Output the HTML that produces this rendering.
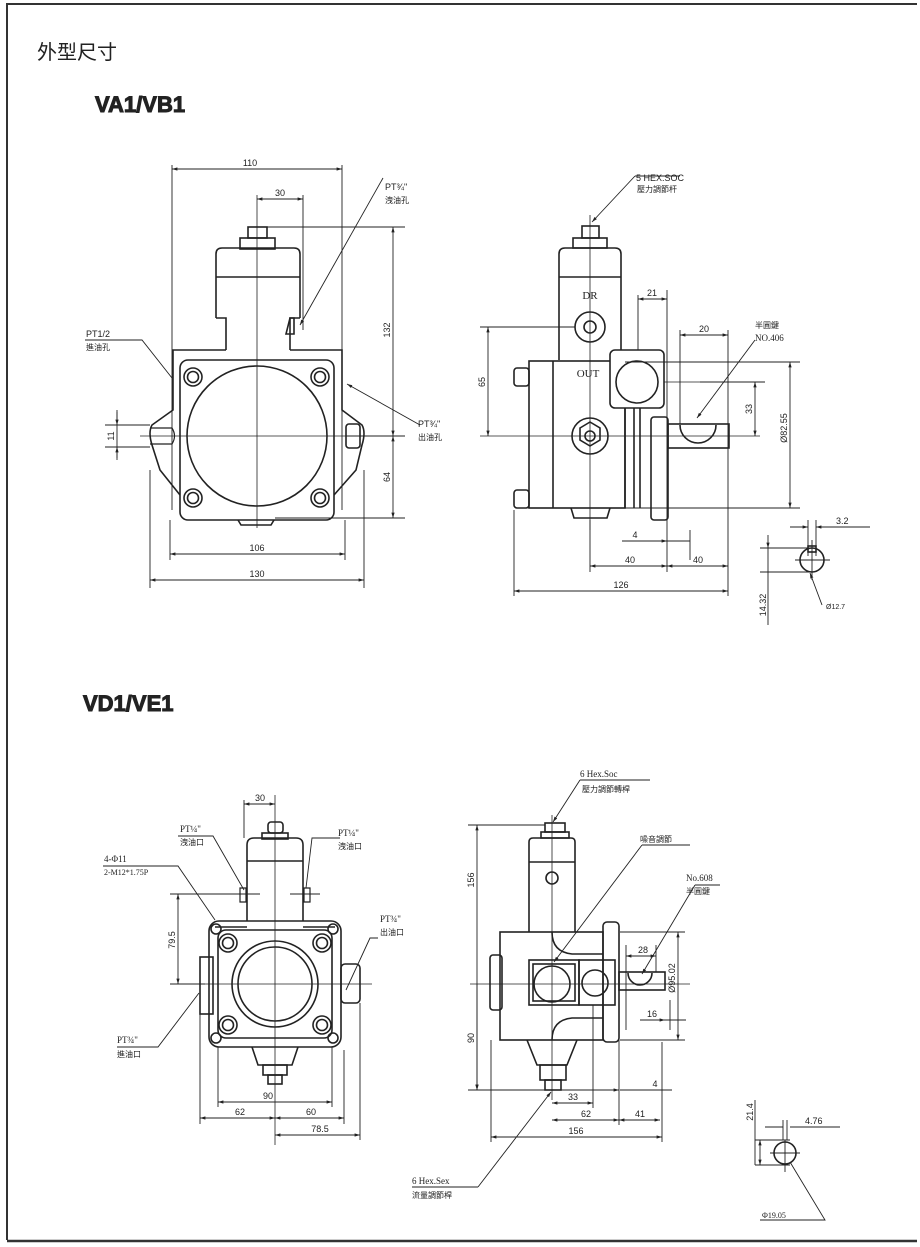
<!DOCTYPE html>
<html><head><meta charset="utf-8"><style>
html,body{margin:0;padding:0;background:#fff}
svg{display:block}
text{font-family:"Liberation Sans","Noto Sans CJK TC",sans-serif;fill:#222}
.s{font-family:"Liberation Serif","Noto Serif CJK SC",serif}
</style></head><body>
<svg width="920" height="1247" viewBox="0 0 920 1247" xmlns="http://www.w3.org/2000/svg">
<defs>
<marker id="a" viewBox="0 0 10 10" refX="10" refY="5" markerWidth="6" markerHeight="6" orient="auto-start-reverse"><path d="M0,2 L10,5 L0,8z" fill="#222"/></marker>
</defs>
<rect x="0" y="0" width="920" height="1247" fill="#fff"/>
<path d="M7,1240 V4 H917" fill="none" stroke="#333" stroke-width="2"/>
<line x1="7" y1="1241" x2="917" y2="1241" stroke="#333" stroke-width="2.5"/>
<text x="37" y="59" font-size="20" font-family="Noto Sans CJK TC,sans-serif">外型尺寸</text>
<text x="95" y="112" font-size="22" font-weight="bold" font-family="Liberation Sans,sans-serif" stroke="#222" stroke-width="1">VA1/VB1</text>
<text x="83" y="711" font-size="22" font-weight="bold" font-family="Liberation Sans,sans-serif" stroke="#222" stroke-width="1">VD1/VE1</text>

<g fill="none" stroke="#222" stroke-width="1.6">
<!-- ===== VA1 front ===== -->
<path d="M257,195 V528 M140,436 H400" stroke-width="0.8"/>
<rect x="248" y="227" width="19" height="11"/><rect x="240" y="238" width="35" height="11"/>
<path d="M216,318 V254 Q216,248 222,248 H294 Q300,248 300,254 V318 M216,277 H300"/>
<path d="M216,318 H226 V350 M300,318 H290 V350"/>
<path d="M290,318 h4 v16 h-8 z"/>
<path d="M226,350 H173 V410 L152,425 Q148,432 152,445 L160,470 L180,495 M290,350 H342 V410 L362,425 Q366,432 362,445 L356,470 L334,495"/>
<rect x="180" y="360" width="154" height="160" rx="8"/>
<circle cx="257" cy="436" r="70"/>
<g><circle cx="193" cy="377" r="9"/><circle cx="193" cy="377" r="5.5"/><circle cx="320" cy="377" r="9"/><circle cx="320" cy="377" r="5.5"/><circle cx="193" cy="498" r="9"/><circle cx="193" cy="498" r="5.5"/><circle cx="320" cy="498" r="9"/><circle cx="320" cy="498" r="5.5"/></g>
<path d="M238,520 l3,5 h30 l3,-5"/>
<rect x="346" y="424" width="14" height="24" rx="3"/>
<path d="M150,428 H172 Q177,436 172,444 H150" stroke-width="1.2"/>
<g stroke-width="0.9">
<path d="M172,165 V510 M342,165 V510 M303,195 V330 M150,470 V588 M364,470 V588 M170,520 V560 M345,520 V560"/>
<path d="M267,227 H405 M275,518 H405 M346,436 H405 M117,410 V458 M105,425 H150 M105,447 H150"/>
<line x1="172" y1="169" x2="342" y2="169" marker-start="url(#a)" marker-end="url(#a)"/>
<line x1="257" y1="199" x2="303" y2="199" marker-start="url(#a)" marker-end="url(#a)"/>
<line x1="393" y1="227" x2="393" y2="436" marker-start="url(#a)" marker-end="url(#a)"/>
<line x1="393" y1="436" x2="393" y2="518" marker-start="url(#a)" marker-end="url(#a)"/>
<line x1="170" y1="554" x2="345" y2="554" marker-start="url(#a)" marker-end="url(#a)"/>
<line x1="150" y1="580" x2="364" y2="580" marker-start="url(#a)" marker-end="url(#a)"/>
<line x1="117" y1="412" x2="117" y2="425" marker-end="url(#a)"/>
<line x1="117" y1="460" x2="117" y2="447" marker-end="url(#a)"/>
<path d="M85,340 H142 L172,378"/><line x1="383" y1="178" x2="300" y2="325" marker-end="url(#a)"/>
<line x1="420" y1="425" x2="347" y2="384" marker-end="url(#a)"/>
</g>

<!-- ===== VA1 side ===== -->
<path d="M590,215 V530 M480,436 H760 M640,382 H760" stroke-width="0.8"/>
<rect x="582" y="226" width="17" height="12"/><rect x="573" y="238" width="34" height="10"/>
<path d="M559,360 V254 Q559,248 565,248 H615 Q621,248 621,254 V360 M559,277 H621"/>
<circle cx="590" cy="327" r="15"/><circle cx="590" cy="327" r="6"/>
<rect x="529" y="361" width="96" height="147"/><path d="M553,361 V508"/>
<rect x="514" y="368" width="15" height="18" rx="3"/><rect x="514" y="490" width="15" height="18" rx="3"/>
<rect x="610" y="350" width="54" height="58" rx="5" fill="#fff"/><circle cx="637" cy="382" r="21"/>
<circle cx="590" cy="436" r="18"/><path d="M580,428 l10,-6 10,6 v12 l-10,6 -10,-6z"/><circle cx="590" cy="436" r="5"/>
<path d="M625,408 V508 M634,408 V508 M640,408 V508"/>
<rect x="651" y="417" width="17" height="103" rx="3"/>
<rect x="668" y="424" width="61" height="24"/><path d="M680,425 A18,18 0 0 0 716,425"/>
<path d="M571,508 l3,10 h33 l3,-10"/>
<g stroke-width="0.9">
<path d="M635,176 H680 M480,327 H575 M514,510 V596 M728,330 V596 M590,520 V572 M667,290 V572 M690,530 V560 M638,295 V350 M680,330 V424 M625,362 H800 M625,508 H800 M700,382 H765"/>
<line x1="635" y1="176" x2="592" y2="222" marker-end="url(#a)"/>
<line x1="488" y1="327" x2="488" y2="436" marker-start="url(#a)" marker-end="url(#a)"/>
<line x1="638" y1="299" x2="667" y2="299" marker-start="url(#a)" marker-end="url(#a)"/>
<line x1="680" y1="335" x2="728" y2="335" marker-start="url(#a)" marker-end="url(#a)"/>
<line x1="755" y1="382" x2="755" y2="436" marker-start="url(#a)" marker-end="url(#a)"/>
<line x1="790" y1="362" x2="790" y2="508" marker-start="url(#a)" marker-end="url(#a)"/>
<line x1="622" y1="541" x2="667" y2="541" marker-end="url(#a)"/><line x1="690" y1="541" x2="667" y2="541"/>
<line x1="590" y1="566" x2="667" y2="566" marker-start="url(#a)" marker-end="url(#a)"/>
<line x1="667" y1="566" x2="728" y2="566" marker-start="url(#a)" marker-end="url(#a)"/>
<line x1="514" y1="591" x2="728" y2="591" marker-start="url(#a)" marker-end="url(#a)"/>
<line x1="755" y1="340" x2="697" y2="418" marker-end="url(#a)"/>
<path d="M760,548 H812 M760,572 H812 M768,548 V625 M808,520 V556 M816,520 V556 M790,527 H806 M818,527 H870 M795,560 H830 M812,540 V580"/>
<line x1="768" y1="535" x2="768" y2="548" marker-end="url(#a)"/>
<line x1="800" y1="527" x2="808" y2="527" marker-end="url(#a)"/><line x1="824" y1="527" x2="816" y2="527" marker-end="url(#a)"/>
<line x1="822" y1="605" x2="810" y2="573" marker-end="url(#a)"/>
</g>
<circle cx="812" cy="560" r="12"/><rect x="808" y="546" width="8" height="6"/>

<!-- ===== VD1 front ===== -->
<path d="M275,795 V1145 M190,984 H372" stroke-width="0.8"/>
<rect x="268" y="822" width="15" height="11" rx="3"/><rect x="262" y="833" width="26" height="6"/>
<path d="M247,921 V845 Q247,838 254,838 H296 Q303,838 303,845 V921 M247,861 H303"/>
<rect x="209" y="921" width="132" height="126" rx="10"/>
<path d="M215,927 H247 M303,927 H335"/>
<rect x="200" y="957" width="13" height="57"/><rect x="341" y="964" width="19" height="39" rx="4"/>
<rect x="218" y="930" width="114" height="108" rx="8"/>
<circle cx="275" cy="984" r="43"/><circle cx="275" cy="984" r="37"/>
<g><circle cx="228" cy="943" r="9"/><circle cx="228" cy="943" r="5.5"/><circle cx="322" cy="943" r="9"/><circle cx="322" cy="943" r="5.5"/><circle cx="228" cy="1025" r="9"/><circle cx="228" cy="1025" r="5.5"/><circle cx="322" cy="1025" r="9"/><circle cx="322" cy="1025" r="5.5"/>
<circle cx="216" cy="929" r="5"/><circle cx="333" cy="929" r="5"/><circle cx="216" cy="1038" r="5"/><circle cx="333" cy="1038" r="5"/></g>
<path d="M252,1047 l6,18 h34 l6,-18"/><rect x="263" y="1065" width="24" height="10"/><rect x="268" y="1075" width="14" height="9"/>
<path d="M240,888 h6 v14 h-6z M304,888 h6 v14 h-6z" stroke-width="1.2"/>
<g stroke-width="0.9">
<path d="M244,800 V838 M170,894 H260 M170,984 H205 M218,1047 V1107 M332,1047 V1107 M200,1014 V1124 M344,1050 V1124 M360,1003 V1140 M290,894 H320"/>
<line x1="244" y1="804" x2="275" y2="804" marker-start="url(#a)" marker-end="url(#a)"/>
<line x1="178" y1="894" x2="178" y2="984" marker-start="url(#a)" marker-end="url(#a)"/>
<line x1="218" y1="1102" x2="332" y2="1102" marker-start="url(#a)" marker-end="url(#a)"/>
<line x1="200" y1="1118" x2="275" y2="1118" marker-start="url(#a)" marker-end="url(#a)"/>
<line x1="275" y1="1118" x2="344" y2="1118" marker-start="url(#a)" marker-end="url(#a)"/>
<line x1="275" y1="1135" x2="360" y2="1135" marker-start="url(#a)" marker-end="url(#a)"/>
<path d="M178,836 H213 L244,890 M103,866 H178 L215,920 M340,838 H312 L306,888 M378,938 H370 L346,990 M117,1047 H158 L199,993"/>
</g>

<!-- ===== VD1 side ===== -->
<path d="M552,815 V1100 M470,984 H690" stroke-width="0.8"/>
<rect x="545" y="823" width="20" height="9"/><rect x="541" y="832" width="28" height="6"/>
<path d="M529,932 V842 Q529,838 533,838 H571 Q575,838 575,842 V932 M529,862 H575"/>
<circle cx="552" cy="878" r="6"/>
<rect x="500" y="932" width="103" height="108"/><rect x="490" y="955" width="12" height="55" rx="3"/>
<rect x="529" y="960" width="50" height="45"/><rect x="533" y="964" width="42" height="37"/><circle cx="552" cy="984" r="18"/>
<rect x="579" y="960" width="36" height="45"/><circle cx="595" cy="983" r="13"/>
<path d="M552,932 q0,20 20,22 h31 M552,1040 q0,-20 20,-22 h31"/>
<rect x="603" y="922" width="16" height="120" rx="4"/>
<rect x="619" y="972" width="46" height="18"/><path d="M628,973 A12,12 0 0 0 652,973"/>
<path d="M527,1040 l10,25 h30 l10,-25"/><rect x="540" y="1065" width="26" height="15"/><rect x="545" y="1080" width="16" height="10"/>
<g stroke-width="0.9">
<path d="M580,780 H650 M468,825 H545 M468,1090 H600 M491,1040 V1142 M662,1042 V1142 M619,1040 V1125 M593,1005 V1108 M626,945 V1030 M656,945 V972 M620,932 H685 M620,1040 H685 M670,1000 V1030 M620,1090 H672 M642,845 H690 M695,885 H720"/>
<line x1="580" y1="780" x2="553" y2="822" marker-end="url(#a)"/>
<line x1="477" y1="825" x2="477" y2="1090" marker-start="url(#a)" marker-end="url(#a)"/>
<line x1="477" y1="984" x2="477" y2="1090" marker-end="url(#a)"/>
<line x1="642" y1="845" x2="554" y2="962" marker-end="url(#a)"/>
<line x1="695" y1="885" x2="642" y2="974" marker-end="url(#a)"/>
<line x1="626" y1="956" x2="656" y2="956" marker-start="url(#a)" marker-end="url(#a)"/>
<line x1="678" y1="932" x2="678" y2="1040" marker-start="url(#a)" marker-end="url(#a)"/>
<line x1="640" y1="1020" x2="665" y2="1020" marker-end="url(#a)"/><line x1="686" y1="1020" x2="665" y2="1020"/>
<line x1="600" y1="1090" x2="619" y2="1090" marker-end="url(#a)"/>
<line x1="552" y1="1103" x2="593" y2="1103" marker-start="url(#a)" marker-end="url(#a)"/>
<line x1="552" y1="1120" x2="619" y2="1120" marker-start="url(#a)" marker-end="url(#a)"/>
<line x1="619" y1="1120" x2="660" y2="1120" marker-start="url(#a)" marker-end="url(#a)"/>
<line x1="491" y1="1137" x2="662" y2="1137" marker-start="url(#a)" marker-end="url(#a)"/>
<path d="M412,1187 H478"/><line x1="478" y1="1187" x2="551" y2="1092" marker-end="url(#a)"/>
<path d="M755,1100 V1165 M755,1140 H790 M755,1165 H790 M783,1120 V1140 M787,1120 V1140 M765,1127 H783 M790,1127 H840 M770,1153 H800 M785,1140 V1172 M760,1220 H825 L790,1162"/>
<line x1="760" y1="1140" x2="760" y2="1165" marker-start="url(#a)" marker-end="url(#a)"/>
</g>
<circle cx="785" cy="1153" r="11"/>
</g>

<g font-size="9">
<text x="250" y="166" text-anchor="middle">110</text>
<text x="280" y="196" text-anchor="middle">30</text>
<text x="385" y="190">PT¾"</text><text x="385" y="203" font-size="8">洩油孔</text>
<text x="86" y="337">PT1/2</text><text x="86" y="350" font-size="8">進油孔</text>
<text x="418" y="427">PT¾"</text><text x="418" y="440" font-size="8">出油孔</text>
<text transform="translate(390,330) rotate(-90)" text-anchor="middle">132</text>
<text transform="translate(390,477) rotate(-90)" text-anchor="middle">64</text>
<text transform="translate(114,436) rotate(-90)" text-anchor="middle">11</text>
<text x="257" y="551" text-anchor="middle">106</text>
<text x="257" y="577" text-anchor="middle">130</text>
<text x="636" y="181">5 HEX.SOC</text><text x="637" y="192" font-size="8">壓力調節杆</text>
<text x="590" y="299" text-anchor="middle" class="s" font-size="11" fill="#555">DR</text>
<text x="588" y="377" text-anchor="middle" class="s" font-size="11" fill="#555">OUT</text>
<text x="652" y="296" text-anchor="middle">21</text>
<text x="704" y="332" text-anchor="middle">20</text>
<text x="755" y="328" font-size="8">半圓鍵</text><text x="755" y="341" class="s" font-size="9">NO.406</text>
<text transform="translate(485,382) rotate(-90)" text-anchor="middle">65</text>
<text transform="translate(752,409) rotate(-90)" text-anchor="middle">33</text>
<text transform="translate(787,428) rotate(-90)" text-anchor="middle">Ø82.55</text>
<text x="635" y="538" text-anchor="middle">4</text>
<text x="630" y="563" text-anchor="middle">40</text><text x="698" y="563" text-anchor="middle">40</text>
<text x="621" y="588" text-anchor="middle">126</text>
<text x="836" y="524">3.2</text>
<text transform="translate(766,605) rotate(-90)" text-anchor="middle">14.32</text>
<text x="826" y="609" font-size="7">Ø12.7</text>
<text x="260" y="801" text-anchor="middle">30</text>
<text x="180" y="832" class="s">PT¼"</text><text x="180" y="845" font-size="8">洩油口</text>
<text x="338" y="836" class="s">PT¼"</text><text x="338" y="849" font-size="8">洩油口</text>
<text x="104" y="862" class="s">4-Φ11</text><text x="104" y="875" class="s" font-size="8">2-M12*1.75P</text>
<text x="380" y="922" class="s">PT¾"</text><text x="380" y="935" font-size="8">出油口</text>
<text x="117" y="1043" class="s">PT¾"</text><text x="117" y="1057" font-size="8">進油口</text>
<text transform="translate(175,940) rotate(-90)" text-anchor="middle">79.5</text>
<text x="268" y="1099" text-anchor="middle">90</text>
<text x="240" y="1115" text-anchor="middle">62</text><text x="311" y="1115" text-anchor="middle">60</text>
<text x="320" y="1132" text-anchor="middle">78.5</text>
<text x="580" y="777" class="s">6 Hex.Soc</text><text x="582" y="792" font-size="8">壓力調節轉桿</text>
<text x="640" y="842" font-size="8">噪音調節</text>
<text x="686" y="881" class="s">No.608</text><text x="686" y="894" font-size="8">半圓鍵</text>
<text transform="translate(474,880) rotate(-90)" text-anchor="middle">156</text>
<text transform="translate(474,1038) rotate(-90)" text-anchor="middle">90</text>
<text x="643" y="953" text-anchor="middle">28</text>
<text transform="translate(675,978) rotate(-90)" text-anchor="middle">Ø95.02</text>
<text x="652" y="1017" text-anchor="middle">16</text>
<text x="655" y="1087" text-anchor="middle">4</text>
<text x="573" y="1100" text-anchor="middle">33</text>
<text x="586" y="1117" text-anchor="middle">62</text><text x="640" y="1117" text-anchor="middle">41</text>
<text x="576" y="1134" text-anchor="middle">156</text>
<text x="412" y="1184" class="s">6 Hex.Sex</text><text x="412" y="1198" font-size="8">流量調節桿</text>
<text transform="translate(753,1112) rotate(-90)" text-anchor="middle">21.4</text>
<text x="805" y="1124">4.76</text>
<text x="762" y="1218" class="s" font-size="8">Φ19.05</text>
</g>
</svg>
</body></html>
